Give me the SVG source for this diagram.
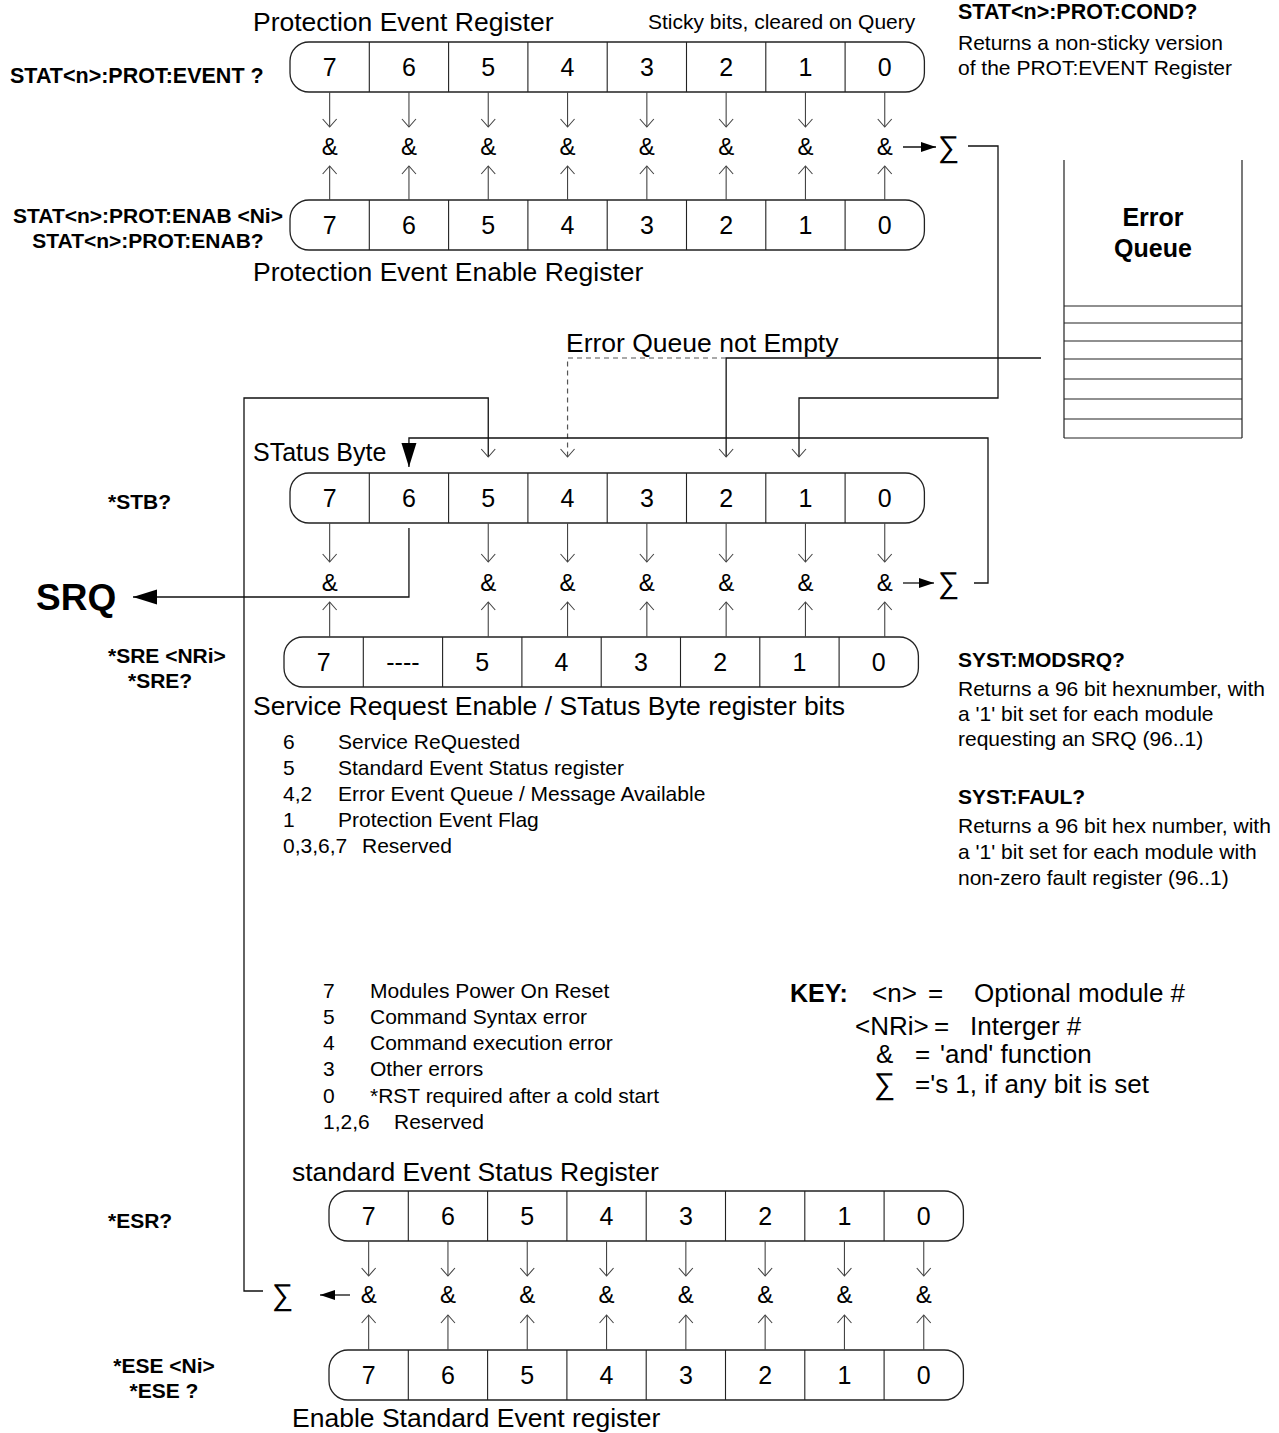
<svg xmlns="http://www.w3.org/2000/svg" width="1279" height="1433" viewBox="0 0 1279 1433">
<style>
text{font-family:"Liberation Sans",Arial,sans-serif;fill:#000}
.t{font-size:26.5px}
.s{font-size:21px}
.b{font-size:21px;font-weight:bold}
.b2{font-size:21.5px;font-weight:bold}
.k{font-size:26px}
.d{font-size:25px;text-anchor:middle}
.a{font-size:24px;text-anchor:middle}
.sg{font-size:30px}
.box{fill:#fff;stroke:#222;stroke-width:1.3}
.dv{stroke:#222;stroke-width:1.1;fill:none}
.ar{stroke:#444;stroke-width:1.1;fill:none;marker-end:url(#ch)}
.ln{stroke:#111;stroke-width:1.3;fill:none}
.q{stroke:#222;stroke-width:1.2;fill:none}
</style>
<defs>
<marker id="ch" markerUnits="userSpaceOnUse" viewBox="-10 -8 12 16" refX="0" refY="0" markerWidth="12" markerHeight="16" orient="auto"><path d="M-8,-7 L0,0 L-8,7" fill="none" stroke="#444" stroke-width="1.1"/></marker>
<marker id="tf" markerUnits="userSpaceOnUse" viewBox="-16 -6 17 12" refX="0" refY="0" markerWidth="17" markerHeight="12" orient="auto"><path d="M-15,-5 L0,0 L-15,5Z" fill="#000"/></marker>
<marker id="tl" markerUnits="userSpaceOnUse" viewBox="-25 -8 26 16" refX="0" refY="0" markerWidth="26" markerHeight="16" orient="auto"><path d="M-24,-7.5 L0,0 L-24,7.5Z" fill="#000"/></marker>
</defs>
<rect width="1279" height="1433" fill="#fff"/>

<g id="labels">
<text class="t" x="253" y="31">Protection Event Register</text>
<text class="s" x="648" y="29">Sticky bits, cleared on Query</text>
<text class="b2" x="958" y="19">STAT&lt;n&gt;:PROT:COND?</text>
<text class="s" x="958" y="50">Returns a non-sticky version</text>
<text class="s" x="958" y="75">of the PROT:EVENT Register</text>
<text class="b2" x="10" y="83">STAT&lt;n&gt;:PROT:EVENT ?</text>
<text class="b" x="148" y="223" text-anchor="middle">STAT&lt;n&gt;:PROT:ENAB &lt;Ni&gt;</text>
<text class="b" x="148" y="248" text-anchor="middle">STAT&lt;n&gt;:PROT:ENAB?</text>
<text class="t" x="253" y="281">Protection Event Enable Register</text>
<text class="t" x="566" y="352">Error Queue not Empty</text>
<text x="253" y="461" style="font-size:25px">STatus Byte</text>
<text class="b" x="108" y="509">*STB?</text>
<text x="36" y="610" style="font-size:37px;font-weight:bold">SRQ</text>
<text class="b" x="108" y="663">*SRE &lt;NRi&gt;</text>
<text class="b" x="128" y="688">*SRE?</text>
<text class="t" x="253" y="715">Service Request Enable / STatus Byte register bits</text>
<text class="s" x="283" y="749">6</text><text class="s" x="338" y="749">Service ReQuested</text>
<text class="s" x="283" y="775">5</text><text class="s" x="338" y="775">Standard Event Status register</text>
<text class="s" x="283" y="801">4,2</text><text class="s" x="338" y="801">Error Event Queue / Message Available</text>
<text class="s" x="283" y="827">1</text><text class="s" x="338" y="827">Protection Event Flag</text>
<text class="s" x="283" y="853">0,3,6,7</text><text class="s" x="362" y="853">Reserved</text>
<text class="b" x="958" y="667">SYST:MODSRQ?</text>
<text class="s" x="958" y="696">Returns a 96 bit hexnumber, with</text>
<text class="s" x="958" y="721">a '1' bit set for each module</text>
<text class="s" x="958" y="746">requesting an SRQ (96..1)</text>
<text class="b" x="958" y="804">SYST:FAUL?</text>
<text class="s" x="958" y="833">Returns a 96 bit hex number, with</text>
<text class="s" x="958" y="859">a '1' bit set for each module with</text>
<text class="s" x="958" y="885">non-zero fault register (96..1)</text>
<text class="s" x="323" y="998">7</text><text class="s" x="370" y="998">Modules Power On Reset</text>
<text class="s" x="323" y="1024">5</text><text class="s" x="370" y="1024">Command Syntax error</text>
<text class="s" x="323" y="1050">4</text><text class="s" x="370" y="1050">Command execution error</text>
<text class="s" x="323" y="1076">3</text><text class="s" x="370" y="1076">Other errors</text>
<text class="s" x="323" y="1103">0</text><text class="s" x="370" y="1103">*RST required after a cold start</text>
<text class="s" x="323" y="1129">1,2,6</text><text class="s" x="394" y="1129">Reserved</text>
<text x="790" y="1002" style="font-size:25px;font-weight:bold">KEY:</text>
<text class="k" x="872" y="1002">&lt;n&gt;</text><text class="k" x="928" y="1002">=</text><text class="k" x="974" y="1002">Optional module #</text>
<text class="k" x="855" y="1035">&lt;NRi&gt;</text><text class="k" x="934" y="1035">=</text><text class="k" x="970" y="1035">Interger #</text>
<text class="k" x="876" y="1063">&amp;</text><text class="k" x="915" y="1063">=</text><text class="k" x="940" y="1063">'and' function</text>
<text class="sg" x="874" y="1094">∑</text><text class="k" x="915" y="1093">='s 1, if any bit is set</text>
<text class="t" x="292" y="1181">standard Event Status Register</text>
<text class="b" x="108" y="1228">*ESR?</text>
<text class="b" x="164" y="1373" text-anchor="middle">*ESE &lt;Ni&gt;</text>
<text class="b" x="164" y="1398" text-anchor="middle">*ESE ?</text>
<text class="t" x="292" y="1427">Enable Standard Event register</text>
</g>

<g id="per">
<rect class="box" x="290" y="42" width="634.4" height="50" rx="19"/>
<path class="dv" d="M369.3 42V92M448.6 42V92M527.9 42V92M607.2 42V92M686.5 42V92M765.8 42V92M845.1 42V92"/>
<text class="d" x="329.65" y="76">7</text><text class="d" x="408.95" y="76">6</text><text class="d" x="488.25" y="76">5</text><text class="d" x="567.55" y="76">4</text><text class="d" x="646.85" y="76">3</text><text class="d" x="726.15" y="76">2</text><text class="d" x="805.45" y="76">1</text><text class="d" x="884.75" y="76">0</text>
</g>
<g id="peer">
<rect class="box" x="290" y="200" width="634.4" height="50" rx="19"/>
<path class="dv" d="M369.3 200V250M448.6 200V250M527.9 200V250M607.2 200V250M686.5 200V250M765.8 200V250M845.1 200V250"/>
<text class="d" x="329.65" y="234">7</text><text class="d" x="408.95" y="234">6</text><text class="d" x="488.25" y="234">5</text><text class="d" x="567.55" y="234">4</text><text class="d" x="646.85" y="234">3</text><text class="d" x="726.15" y="234">2</text><text class="d" x="805.45" y="234">1</text><text class="d" x="884.75" y="234">0</text>
</g>
<g id="per-and">
<text class="a" x="329.65" y="155">&amp;</text><text class="a" x="408.95" y="155">&amp;</text><text class="a" x="488.25" y="155">&amp;</text><text class="a" x="567.55" y="155">&amp;</text><text class="a" x="646.85" y="155">&amp;</text><text class="a" x="726.15" y="155">&amp;</text><text class="a" x="805.45" y="155">&amp;</text><text class="a" x="884.75" y="155">&amp;</text>
<text class="sg" x="938" y="157">∑</text>
</g>

<g id="errq">
<path class="q" d="M1064 160V438M1242 160V438M1064 306H1242M1064 323H1242M1064 341H1242M1064 359H1242M1064 379H1242M1064 399H1242M1064 419H1242M1064 438H1242"/>
<text x="1153" y="226" text-anchor="middle" style="font-size:25px;font-weight:bold">Error</text>
<text x="1153" y="257" text-anchor="middle" style="font-size:25px;font-weight:bold">Queue</text>
</g>

<g id="stb">
<rect class="box" x="290" y="473" width="634.4" height="50" rx="19"/>
<path class="dv" d="M369.3 473V523M448.6 473V523M527.9 473V523M607.2 473V523M686.5 473V523M765.8 473V523M845.1 473V523"/>
<text class="d" x="329.65" y="507">7</text><text class="d" x="408.95" y="507">6</text><text class="d" x="488.25" y="507">5</text><text class="d" x="567.55" y="507">4</text><text class="d" x="646.85" y="507">3</text><text class="d" x="726.15" y="507">2</text><text class="d" x="805.45" y="507">1</text><text class="d" x="884.75" y="507">0</text>
</g>
<g id="stb-and">
<text class="a" x="329.65" y="591">&amp;</text><text class="a" x="488.25" y="591">&amp;</text><text class="a" x="567.55" y="591">&amp;</text><text class="a" x="646.85" y="591">&amp;</text><text class="a" x="726.15" y="591">&amp;</text><text class="a" x="805.45" y="591">&amp;</text><text class="a" x="884.75" y="591">&amp;</text>
<text class="sg" x="938" y="593">∑</text>
</g>
<g id="sre">
<rect class="box" x="284" y="637" width="634.4" height="50" rx="19"/>
<path class="dv" d="M363.3 637V687M442.6 637V687M521.9 637V687M601.2 637V687M680.5 637V687M759.8 637V687M839.1 637V687"/>
<text class="d" x="323.65" y="671">7</text><text class="d" x="402.95" y="671">----</text><text class="d" x="482.25" y="671">5</text><text class="d" x="561.55" y="671">4</text><text class="d" x="640.85" y="671">3</text><text class="d" x="720.15" y="671">2</text><text class="d" x="799.45" y="671">1</text><text class="d" x="878.75" y="671">0</text>
</g>

<g id="esr">
<rect class="box" x="329" y="1191" width="634.4" height="50" rx="19"/>
<path class="dv" d="M408.3 1191V1241M487.6 1191V1241M566.9 1191V1241M646.2 1191V1241M725.5 1191V1241M804.8 1191V1241M884.1 1191V1241"/>
<text class="d" x="368.65" y="1225">7</text><text class="d" x="447.95" y="1225">6</text><text class="d" x="527.25" y="1225">5</text><text class="d" x="606.55" y="1225">4</text><text class="d" x="685.85" y="1225">3</text><text class="d" x="765.15" y="1225">2</text><text class="d" x="844.45" y="1225">1</text><text class="d" x="923.75" y="1225">0</text>
</g>
<g id="esr-and">
<text class="a" x="368.65" y="1303">&amp;</text><text class="a" x="447.95" y="1303">&amp;</text><text class="a" x="527.25" y="1303">&amp;</text><text class="a" x="606.55" y="1303">&amp;</text><text class="a" x="685.85" y="1303">&amp;</text><text class="a" x="765.15" y="1303">&amp;</text><text class="a" x="844.45" y="1303">&amp;</text><text class="a" x="923.75" y="1303">&amp;</text>
<text class="sg" x="272" y="1305">∑</text>
</g>
<g id="ese">
<rect class="box" x="329" y="1350" width="634.4" height="50" rx="19"/>
<path class="dv" d="M408.3 1350V1400M487.6 1350V1400M566.9 1350V1400M646.2 1350V1400M725.5 1350V1400M804.8 1350V1400M884.1 1350V1400"/>
<text class="d" x="368.65" y="1384">7</text><text class="d" x="447.95" y="1384">6</text><text class="d" x="527.25" y="1384">5</text><text class="d" x="606.55" y="1384">4</text><text class="d" x="685.85" y="1384">3</text><text class="d" x="765.15" y="1384">2</text><text class="d" x="844.45" y="1384">1</text><text class="d" x="923.75" y="1384">0</text>
</g>

<g id="connectors">
<path class="ar" d="M329.65 92V127"/><path class="ar" d="M408.95 92V127"/><path class="ar" d="M488.25 92V127"/><path class="ar" d="M567.55 92V127"/><path class="ar" d="M646.85 92V127"/><path class="ar" d="M726.15 92V127"/><path class="ar" d="M805.45 92V127"/><path class="ar" d="M884.75 92V127"/>
<path class="ar" d="M329.65 200V166"/><path class="ar" d="M408.95 200V166"/><path class="ar" d="M488.25 200V166"/><path class="ar" d="M567.55 200V166"/><path class="ar" d="M646.85 200V166"/><path class="ar" d="M726.15 200V166"/><path class="ar" d="M805.45 200V166"/><path class="ar" d="M884.75 200V166"/>
<path class="ln" d="M903 147H936" marker-end="url(#tf)"/>
<path class="ln" d="M968 146H998V398H799V457" marker-end="url(#ch)"/>
<path class="ln" d="M1041 358H726.15V457" marker-end="url(#ch)"/>
<path d="M726 358H567.55V457" fill="none" stroke="#555" stroke-width="1.2" stroke-dasharray="5,4" marker-end="url(#ch)"/>
<path class="ln" d="M263 1291H244V398H488.25V457" marker-end="url(#ch)"/>
<path class="ln" d="M974 583H988V438H408.95V467" marker-end="url(#tl)"/>
<path class="ar" d="M329.65 523V562"/><path class="ar" d="M488.25 523V562"/><path class="ar" d="M567.55 523V562"/><path class="ar" d="M646.85 523V562"/><path class="ar" d="M726.15 523V562"/><path class="ar" d="M805.45 523V562"/><path class="ar" d="M884.75 523V562"/>
<path class="ar" d="M329.65 637V602"/><path class="ar" d="M488.25 637V602"/><path class="ar" d="M567.55 637V602"/><path class="ar" d="M646.85 637V602"/><path class="ar" d="M726.15 637V602"/><path class="ar" d="M805.45 637V602"/><path class="ar" d="M884.75 637V602"/>
<path class="ln" d="M903 583H934" marker-end="url(#tf)"/>
<path class="ln" d="M408.95 528V597H133" marker-end="url(#tl)"/>
<path class="ar" d="M368.65 1241V1276"/><path class="ar" d="M447.95 1241V1276"/><path class="ar" d="M527.25 1241V1276"/><path class="ar" d="M606.55 1241V1276"/><path class="ar" d="M685.85 1241V1276"/><path class="ar" d="M765.15 1241V1276"/><path class="ar" d="M844.45 1241V1276"/><path class="ar" d="M923.75 1241V1276"/>
<path class="ar" d="M368.65 1350V1315"/><path class="ar" d="M447.95 1350V1315"/><path class="ar" d="M527.25 1350V1315"/><path class="ar" d="M606.55 1350V1315"/><path class="ar" d="M685.85 1350V1315"/><path class="ar" d="M765.15 1350V1315"/><path class="ar" d="M844.45 1350V1315"/><path class="ar" d="M923.75 1350V1315"/>
<path class="ln" d="M350 1295H320" marker-end="url(#tf)"/>
</g>
</svg>
